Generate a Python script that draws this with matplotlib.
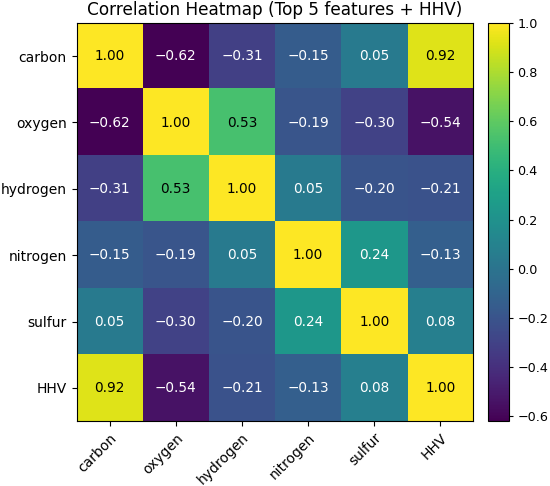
import matplotlib
matplotlib.use("Agg")
import matplotlib.pyplot as plt
import numpy as np

labels = ["carbon", "oxygen", "hydrogen", "nitrogen", "sulfur", "HHV"]
corr = [
    [1.00, -0.62, -0.31, -0.15, 0.05, 0.92],
    [-0.62, 1.00, 0.53, -0.19, -0.30, -0.54],
    [-0.31, 0.53, 1.00, 0.05, -0.20, -0.21],
    [-0.15, -0.19, 0.05, 1.00, 0.24, -0.13],
    [0.05, -0.30, -0.20, 0.24, 1.00, 0.08],
    [0.92, -0.54, -0.21, -0.13, 0.08, 1.00],
]
title = "Correlation Heatmap (Top 5 features + HHV)"

data = np.array(corr)
W, H = 550, 486
fig = plt.figure(figsize=(W/100, H/100), dpi=100)
ax = fig.add_axes([76.5/W, 1-421/H, 397/W, 398/H])
cax = fig.add_axes([487.5/W, 1-421/H, 21.5/W, 398/H])
im = ax.imshow(data, cmap="viridis", aspect="auto")
ax.set_xticks(range(len(labels)))
ax.set_yticks(range(len(labels)))
ax.set_xticklabels(labels, rotation=45, ha="right", rotation_mode="anchor", fontsize=10)
ax.set_yticklabels(labels, fontsize=10)
for i in range(len(labels)):
    for j in range(len(labels)):
        v = data[i, j]
        ax.text(j, i, f"{v:.2f}".replace("-", "\u2212"), ha="center", va="center",
                color="black" if v > 0.5 else "white", fontsize=9.8)
ax.set_title(title, fontsize=12.2)
cb = fig.colorbar(im, cax=cax)
cb.ax.tick_params(labelsize=9.2, length=3, pad=3)
fig.savefig("out.png", dpi=100)
